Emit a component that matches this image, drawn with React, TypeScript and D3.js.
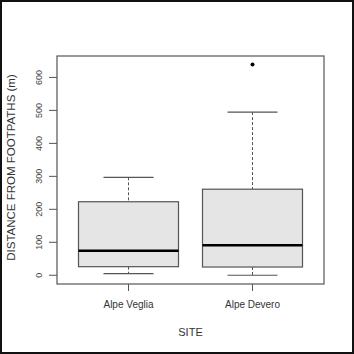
import React from "react";
import * as d3 from "d3";

const categories = ["Alpe Veglia", "Alpe Devero"];
const lowerWhisker = [5, 0];
const q1 = [26, 25];
const median = [74, 91];
const q3 = [223, 261];
const upperWhisker = [297, 495];
const outliers: number[][] = [[], [639]];
const yTicks = [0, 100, 200, 300, 400, 500, 600];
const yTitle = "DISTANCE FROM FOOTPATHS (m)";
const xTitle = "SITE";

const W = 354, H = 354;
const plot = { left: 57, right: 324, top: 56, bottom: 284 };

export default function App() {
  const y = d3.scaleLinear().domain([-26.5, 665]).range([plot.bottom, plot.top]);
  const x = d3.scaleLinear().domain([0.5, 2.5]).range([plot.left + 9.5, plot.right - 9.5]);
  const boxW = 100;
  const capW = 50;
  const font = "Liberation Sans, Arial, sans-serif";
  const lineCol = "#555";
  return (
    <svg width={W} height={H} style={{ position: "absolute", left: 0, top: 0, background: "#fff" }}>
      <rect x={0} y={0} width={W} height={H} fill="#fff" />
      <rect x={1} y={1} width={W - 2} height={H - 2} fill="none" stroke="#111" strokeWidth={2} />
      {categories.map((c, i) => {
        const cx = x(i + 1);
        return (
          <g key={c}>
            <line x1={cx} x2={cx} y1={y(upperWhisker[i])} y2={y(q3[i])} stroke={lineCol} strokeDasharray="3,2" />
            <line x1={cx} x2={cx} y1={y(q1[i])} y2={y(lowerWhisker[i])} stroke={lineCol} strokeDasharray="3,2" />
            <line x1={cx - capW / 2} x2={cx + capW / 2} y1={y(upperWhisker[i])} y2={y(upperWhisker[i])} stroke={lineCol} strokeWidth={1.2} />
            <line x1={cx - capW / 2} x2={cx + capW / 2} y1={y(lowerWhisker[i])} y2={y(lowerWhisker[i])} stroke={lineCol} strokeWidth={1.2} />
            <rect x={cx - boxW / 2} y={y(q3[i])} width={boxW} height={y(q1[i]) - y(q3[i])} fill="#e5e5e5" stroke={lineCol} strokeWidth={1.2} />
            <line x1={cx - boxW / 2} x2={cx + boxW / 2} y1={y(median[i])} y2={y(median[i])} stroke="#000" strokeWidth={2.5} />
            {outliers[i].map((o, j) => (
              <circle key={j} cx={cx} cy={y(o)} r={2} fill="#000" />
            ))}
            <line x1={cx} x2={cx} y1={plot.bottom} y2={plot.bottom + 7} stroke={lineCol} />
            <text x={cx} y={308} textAnchor="middle" fontFamily={font} fontSize={10} fill="#333">{c}</text>
          </g>
        );
      })}
      <rect x={plot.left} y={plot.top} width={plot.right - plot.left} height={plot.bottom - plot.top} fill="none" stroke={lineCol} strokeWidth={1.2} />
      {yTicks.map((t) => (
        <g key={t}>
          <line x1={plot.left - 8} x2={plot.left} y1={y(t)} y2={y(t)} stroke={lineCol} />
          <text transform={`translate(41.5,${y(t)}) rotate(-90)`} textAnchor="middle" fontFamily={font} fontSize={9} fill="#444">{t}</text>
        </g>
      ))}
      <text transform={`translate(14.5,167.5) rotate(-90)`} textAnchor="middle" fontFamily={font} fontSize={11.5} fill="#333">{yTitle}</text>
      <text x={190.5} y={336} textAnchor="middle" fontFamily={font} fontSize={11} fill="#333">{xTitle}</text>
    </svg>
  );
}
